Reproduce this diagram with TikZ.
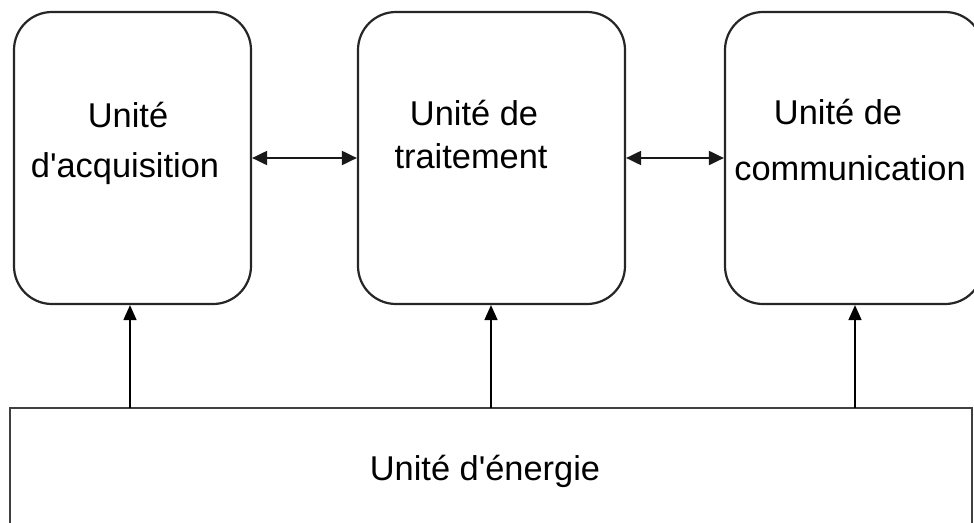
\documentclass[tikz,border=0pt]{standalone}
\usepackage{fontspec}
\setmainfont{Liberation Sans}[Ligatures=TeXOff]
\usetikzlibrary{arrows.meta}

\tikzset{
  unitbox/.style={draw=black!85, line width=2.2pt, rounded corners=38pt,
    inner sep=0pt, fill=white},
  powerbox/.style={draw=black!75, line width=2.4pt, inner sep=0pt, fill=white},
  lbl/.style={anchor=base, inner sep=0pt,
    font=\fontsize{34.4}{41}\selectfont},
  arr/.style={line width=1.6pt, draw=black,
    -{Triangle[length=15pt,width=13pt]}},
  dblarr/.style={line width=2pt, draw=black!90,
    {Triangle[length=15pt,width=14pt]}-{Triangle[length=15pt,width=14pt]}}
}

\begin{document}
\begin{tikzpicture}[x=1pt, y=-1pt]
  \useasboundingbox (0,0) rectangle (974,522);
  \clip (0,0) rectangle (974,522);

  % the three functional units
  \node[unitbox, minimum width=237pt, minimum height=292pt] (acq)  at (132.5,158) {};
  \node[unitbox, minimum width=267pt, minimum height=292pt] (proc) at (491.5,158) {};
  \node[unitbox, minimum width=258pt, minimum height=292pt] (comm) at (854,158) {};

  % power supply unit along the bottom
  \node[powerbox, minimum width=962pt, minimum height=132pt] (energy) at (491,474) {};

  % labels
  \node[lbl] (acqA)  at (128,127) {Unité};
  \node[lbl] (acqB)  at (125,177) {d'acquisition};
  \node[lbl] (procA) at (474,125) {Unité de};
  \node[lbl] (procB) at (471,168) {traitement};
  \node[lbl] (commA) at (838,124) {Unité de};
  \node[lbl] (commB) at (850,180) {communication};
  \node[lbl] (enerA) at (485,480) {Unité d'énergie};

  % data links between units
  \draw[dblarr] (acq.east) -- (proc.west);
  \draw[dblarr] (proc.east) -- (comm.west);

  % power feeds
  \coordinate (fa) at (130,408);
  \coordinate (fp) at (491,408);
  \coordinate (fc) at (855,408);
  \draw[arr] (fa) -- (fa |- acq.south);
  \draw[arr] (fp) -- (fp |- proc.south);
  \draw[arr] (fc) -- (fc |- comm.south);
\end{tikzpicture}
\end{document}
